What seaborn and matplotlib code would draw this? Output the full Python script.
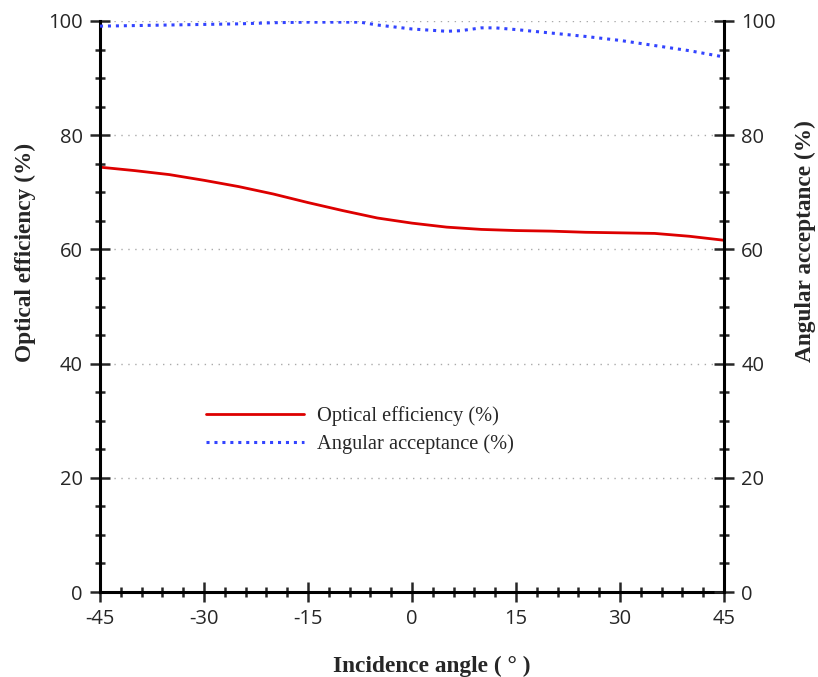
import matplotlib
matplotlib.use("Agg")
import matplotlib.pyplot as plt
import seaborn as sns
import pandas as pd
from matplotlib.ticker import MultipleLocator
from matplotlib.lines import Line2D

sns.set_theme(style="white")
plt.rcParams['font.family'] = ['Open Sans', 'DejaVu Sans']

# Data
eff_angle = [-45, -40, -35, -30, -25, -20, -15, -10, -5, 0, 5, 10, 15, 20, 25, 30, 35, 40, 45]
eff_value = [74.4, 73.8, 73.1, 72.1, 71.0, 69.7, 68.2, 66.8, 65.5, 64.6, 63.9, 63.5, 63.3, 63.2, 63.0, 62.9, 62.8, 62.3, 61.6]

acc_angle = [-45, -40, -35, -30, -25, -20, -15, -10, -7.5, -5, 0, 5, 7, 10, 12, 15, 20, 25, 30, 35, 40, 45]
acc_value = [99.1, 99.2, 99.3, 99.4, 99.5, 99.7, 99.8, 99.8, 99.8, 99.3, 98.6, 98.2, 98.3, 98.8, 98.8, 98.5, 97.9, 97.3, 96.6, 95.7, 94.8, 93.7]

x_ticks = [-45, -30, -15, 0, 15, 30, 45]
y_ticks = [0, 20, 40, 60, 80, 100]

df_eff = pd.DataFrame({"angle": eff_angle, "value": eff_value})
df_acc = pd.DataFrame({"angle": acc_angle, "value": acc_value})

fig = plt.figure(figsize=(8.18, 6.77), dpi=100)
ax = fig.add_axes([100/818, 1-592/677, 624/818, 571/677])
ax2 = ax.twinx()

red = "#dd0000"
blue = "#3344ff"
dots = (0, (1, 1.6))
sns.lineplot(data=df_eff, x="angle", y="value", ax=ax, color=red, lw=2.0)
sns.lineplot(data=df_acc, x="angle", y="value", ax=ax2, color=blue, lw=2.2, linestyle=dots)

for a in (ax, ax2):
    a.set_xlim(-45, 45)
    a.set_ylim(0, 100)
    a.set_yticks(y_ticks)
    a.yaxis.set_minor_locator(MultipleLocator(5))
    a.set_facecolor("none")
    a.spines['top'].set_visible(False)
    for s in a.spines.values():
        s.set_linewidth(2.2)
        s.set_color("black")

ax.set_xticks(x_ticks)
ax.xaxis.set_minor_locator(MultipleLocator(3))

# grid
for yv in y_ticks[1:]:
    ax.axhline(yv, color="#aaaaaa", lw=1.0, ls=(0, (1, 4)), zorder=0)

TS = 14.5
ax.tick_params(axis='both', which='major', direction='inout', length=14, width=1.8, labelsize=TS,
               left=True, bottom=True, right=False, pad=5.5)
ax.tick_params(axis='both', which='minor', direction='inout', length=7.5, width=1.8,
               left=True, bottom=True, right=False)
ax2.tick_params(axis='y', which='major', direction='inout', length=14, width=1.8, labelsize=TS,
                right=True, left=False, pad=5.5)
ax2.tick_params(axis='y', which='minor', direction='inout', length=7.5, width=1.8, right=True, left=False)
ax2.tick_params(axis='x', which='both', bottom=False, top=False, labelbottom=False)
ax.spines['right'].set_visible(False)
ax2.spines['left'].set_visible(False)
ax2.spines['bottom'].set_visible(False)

ax.set_xticklabels([str(v) for v in x_ticks])

label_font = dict(family="Liberation Serif", weight="bold", size=16.8)
ax.set_xlabel("Incidence angle ( ° )", fontdict=label_font)
ax.set_ylabel("Optical efficiency (%)", fontdict=label_font)
ax2.set_ylabel("Angular acceptance (%)", fontdict=label_font)
ax.xaxis.set_label_coords(0.531, -0.112)
ax.yaxis.set_label_coords(-0.103, 0.594)
ax2.yaxis.set_label_coords(1.113, 0.615)

handles = [Line2D([], [], color=red, lw=2.0),
           Line2D([], [], color=blue, lw=2.2, linestyle=dots)]
ax.legend(handles, ["Optical efficiency (%)", "Angular acceptance (%)"],
          loc="upper left", bbox_to_anchor=(0.14, 0.357), frameon=False,
          prop={"family": "Liberation Serif", "size": 14.7}, handlelength=4.8,
          handletextpad=0.65, labelspacing=0.40)

fig.savefig("out.png", dpi=100)
